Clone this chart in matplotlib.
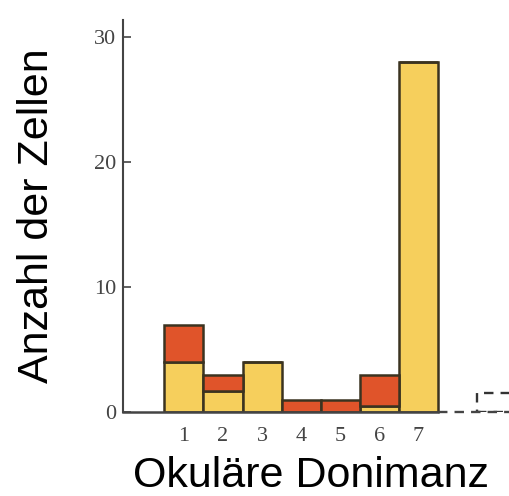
import matplotlib
matplotlib.use("Agg")
import matplotlib.pyplot as plt

categories = [1, 2, 3, 4, 5, 6, 7]
yellow_vals = [4, 1.7, 4, 0, 0, 0.5, 28]
red_vals = [3, 1.3, 0, 1, 1, 2.5, 0]
extra_cat = [9]
extra_vals = [1.5]
yticks = [0, 10, 20, 30]

YELLOW = "#F6CF5C"
RED = "#E0542A"
EDGE = "#3B3320"

fig = plt.figure(figsize=(5.1, 4.96), dpi=100)
ax = fig.add_axes([0.241, 0.169, 0.759, 0.790])

ax.bar(categories, yellow_vals, width=1.0, color=YELLOW, edgecolor=EDGE, linewidth=1.8, zorder=2)
ax.bar(categories, red_vals, bottom=yellow_vals, width=1.0, color=RED, edgecolor=EDGE, linewidth=1.8, zorder=2)
ax.bar(extra_cat, extra_vals, width=1.0, fill=False, edgecolor="#333333", linewidth=1.7,
       linestyle=(0, (4, 3)), zorder=2, clip_on=True)

xmin, xmax = -0.56, 9.34
ax.set_xlim(xmin, xmax)
ax.set_ylim(0, 31.3)

for s in ["top", "right", "bottom"]:
    ax.spines[s].set_visible(False)
ax.spines["left"].set_color("#444444")
ax.spines["left"].set_linewidth(1.5)

ax.plot([xmin, 7.5], [0, 0], color="#444444", linewidth=1.8, zorder=3, clip_on=False)
ax.plot([7.5, xmax], [0, 0], color="#444444", linewidth=1.7, linestyle=(0, (4, 3)), zorder=3, clip_on=False)

ax.set_yticks(yticks)
ax.set_xticks(categories)
ax.tick_params(axis="y", direction="in", length=6, width=1.2, color="#444444", pad=5)
ax.tick_params(axis="x", length=0, pad=11)
for lab in ax.get_yticklabels() + ax.get_xticklabels():
    lab.set_fontfamily("Liberation Serif")
    lab.set_fontsize(16)
    lab.set_color("#444444")

fig.text(0.072, 0.566, "Anzahl der Zellen", rotation=90, ha="center", va="center",
         fontsize=31, family="Liberation Sans", color="black")
fig.text(0.61, 0.018, "Okuläre Donimanz", ha="center", va="baseline",
         fontsize=31, family="Liberation Sans", color="black")

fig.savefig("out.png", dpi=100)
